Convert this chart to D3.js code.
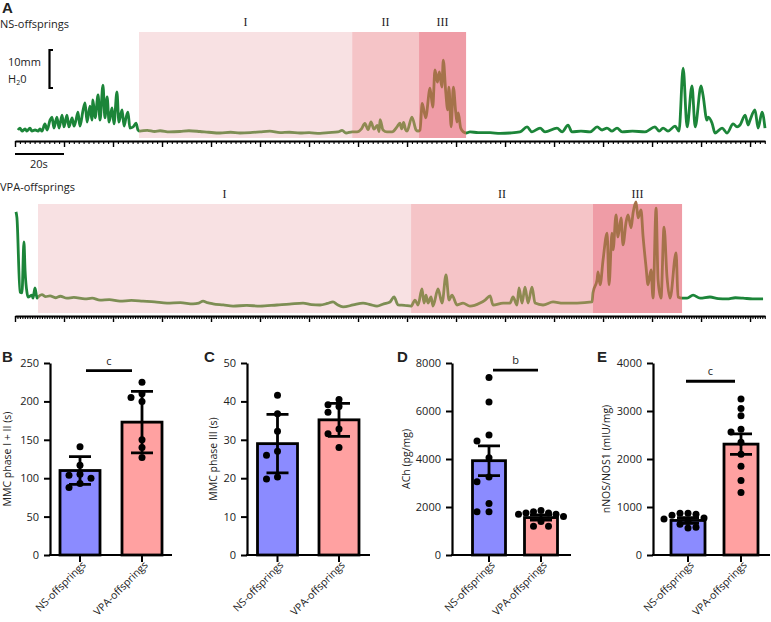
<!DOCTYPE html>
<html><head><meta charset="utf-8">
<script src="https://cdn.jsdelivr.net/npm/d3@7"></script>
<style>
body{margin:0;background:#fff}
svg{display:block}
text{font-family:"Open Sans",sans-serif;fill:#222}
</style>
</head><body>
<svg id="c" width="771" height="622"></svg>
<script>
// ---------- DATA ----------
// Panel A traces: [time (s), pressure (mmH2O above axis)]
const nsTrace = [
[1.2,2.9],[2.0,3.4],[2.9,2.6],[4.1,3.2],[4.9,2.6],[6.1,3.4],[6.9,2.6],[8.2,2.9],[9.4,2.6],[10.2,3.2],[11.0,2.6],
[12.2,4.5],[13.1,2.9],[14.3,5.5],[15.1,6.3],[15.9,3.4],[17.1,6.3],[18.0,3.4],[19.2,6.8],[20.0,3.7],[21.2,6.8],[22.0,3.7],
[23.3,6.1],[24.1,3.9],[24.9,5.5],[25.7,7.6],[26.5,3.9],[27.8,8.2],[28.6,10.0],[29.4,5.0],[30.6,9.2],[31.4,5.5],[31.8,10.8],
[32.7,6.1],[33.9,12.1],[34.7,5.5],[35.9,14.7],[36.7,6.1],[37.6,11.6],[38.4,5.0],[39.6,8.7],[40.4,4.5],[41.6,12.9],[42.4,5.0],
[43.7,8.2],[44.5,3.9],[45.3,6.1],[46.1,7.6],[46.9,3.4],[48.2,3.7],[49.4,4.7],[50.2,2.9],
[51.0,2.6],[54.0,2.8],[57.0,2.5],[59.2,2.7],[63.0,2.4],[67.3,2.5],[71.0,2.7],[75.5,2.5],[79.0,2.3],[83.7,2.1],[88.0,2.3],
[91.8,2.1],[96.0,2.2],[100.0,2.4],[104.0,2.6],[108.2,2.2],[112.0,2.3],[116.3,2.1],[120.0,2.2],[124.5,2.0],[128.0,2.2],
[131.8,2.4],[133.5,2.8],[135.1,2.1],[137.6,2.4],
[139.6,2.4],[141.4,3.2],[142.8,4.6],[144.1,3.0],[145.3,5.0],[146.5,3.1],[147.8,4.1],[148.6,2.5],[149.0,5.6],[150.2,2.9],
[151.8,2.4],[153.9,2.4],[155.9,3.7],[157.1,4.7],[157.8,3.2],[158.6,4.9],[159.4,3.0],[160.0,2.6],[162.0,6.3],[163.7,2.9],[164.5,2.6],
[165.3,2.9],[166.2,9.9],[167.6,6.1],[169.4,13.9],[170.5,8.9],[171.4,18.7],[172.4,15.5],[173.2,18.2],[174.2,14.2],[174.8,21.3],
[175.8,12.9],[176.6,8.2],[177.1,14.2],[178.0,3.7],[178.9,14.2],[179.9,7.4],[180.4,5.0],[180.9,7.4],[181.9,3.4],[183.0,2.4],[184.1,2.1],
[185.7,2.4],[189.0,2.2],[193.9,2.2],[198.0,2.0],[202.0,2.1],[206.1,2.4],[209.0,3.7],[211.0,2.4],[214.3,3.4],[216.3,2.4],
[221.2,3.4],[223.3,2.4],[225.7,4.2],[227.3,2.4],[231.0,2.6],[234.7,2.4],[237.6,3.7],[239.6,2.9],[241.6,3.4],[243.7,2.6],
[245.7,3.4],[247.8,2.4],[252.0,2.6],[257.1,2.4],[261.2,3.7],[262.9,2.6],[264.5,3.4],[266.5,2.6],[269.4,3.9],[271.0,2.6],
[272.7,19.2],[274.3,3.7],[276.3,14.5],[277.6,3.7],[280.0,14.5],[280.8,12.1],[282.4,5.5],[282.9,6.3],[284.5,4.7],[285.7,2.1],
[288.6,3.4],[290.6,2.1],[293.1,4.5],[294.7,3.7],[295.9,4.2],[298.0,6.8],[299.2,4.2],[300.0,5.5],[302.0,8.2],[303.3,3.4],
[304.9,7.6],[306.1,3.4]
];
const vpaTrace = [
[0.8,27.4],[1.6,25.8],[4.1,6.3],[5.7,6.1],[7.3,19.5],[8.2,12.1],[9.8,6.1],[10.6,5.0],[13.9,5.5],[14.7,4.7],[16.3,7.4],
[18.0,4.7],[18.8,5.0],[22.0,5.6],[25.0,5.1],[28.6,5.3],[33.0,4.8],[37.0,5.2],[42.4,4.7],[48.0,4.9],[57.1,4.5],[63.0,4.7],
[69.4,4.2],[77.0,4.3],[85.7,3.9],[95.0,4.1],[104.5,3.9],[114.0,3.7],[124.1,3.4],[135.0,3.5],[145.3,3.2],[150.0,3.4],
[153.5,3.9],[157.0,3.5],[161.6,3.2],[170.0,2.9],[178.0,2.6],[189.0,2.8],[200.0,2.6],[213.9,2.9],[224.0,3.1],[235.1,3.4],
[242.0,3.0],[249.0,2.9],[255.0,3.3],[259.6,3.7],[263.0,3.0],[267.8,2.4],[276.0,2.9],[284.1,3.4],[290.0,3.0],[295.5,2.6],
[301.0,3.2],[306.1,3.7],[309.4,5.0],[312.7,2.9],[318.0,2.8],[323.3,2.6],[326.5,4.2],[329.0,2.9],[332.2,7.1],[333.9,3.4],
[335.5,5.5],[337.1,3.4],[339.6,5.0],[341.2,2.6],[345.3,7.1],[348.6,3.4],[351.8,10.8],[354.3,4.2],[356.7,5.5],[360.8,2.9],
[365.7,3.4],[371.4,2.6],[379.6,3.4],[383.7,4.2],[387.8,5.3],[390.2,2.9],[398.4,3.4],[404.1,3.4],[406.5,5.0],[409.8,2.9],
[411.4,7.4],[413.9,3.4],[416.3,7.6],[418.8,3.4],[422.0,7.6],[424.5,3.4],[431.0,2.9],[439.2,3.7],[447.3,3.4],[458.8,3.4],
[471.0,3.7],[471.8,6.1],[475.1,9.5],[475.9,11.6],[477.6,8.2],[480.0,14.7],[483.3,21.8],[484.9,8.2],[487.3,21.8],[488.2,17.4],
[490.6,26.6],[492.2,20.8],[494.7,25.8],[496.3,18.7],[498.8,24.7],[500.4,26.6],[502.9,23.2],[504.5,27.1],[506.9,30.0],
[508.6,25.8],[511.0,27.9],[512.7,20.8],[515.1,12.9],[516.7,8.2],[519.2,12.1],[520.8,4.7],[523.3,28.4],[524.9,9.5],[527.3,4.7],
[529.8,23.4],[532.2,10.3],[534.7,4.7],[539.6,16.6],[541.2,5.0],[544.5,4.7],[548.6,4.7],[553.5,5.5],[559.2,4.7],[567.3,5.0],
[574.0,4.6],[581.2,4.5],[588.0,4.8],[594.3,4.7],[602.0,4.5],[610.6,4.5]
];
const nsZones  = [[50.6,137.6],[137.6,164.9],[164.9,184.1]];
const vpaZones = [[18.8,323.3],[323.3,471.8],[471.8,544.5]];
const zoneLabels = ["I","II","III"];
const nsDuration = 306.1, vpaDuration = 612.2;

// Panels B–E
const groups = ["NS-offsprings","VPA-offsprings"];
const bMean = [110,173], bErr = [18,40];
const bNS  = [141,117,105,104,100,93,88];
const bVPA = [225,210,205,200,150,140,127];
const cMean = [29,35.2], cErr = [7.6,4.3];
const cNS  = [41.6,36.8,32.2,27,26,20.3,19.8];
const cVPA = [40.5,39.1,38.7,37.2,32.8,31.6,28];
const dMean = [3930,1560], dErr = [620,110];
const dNS  = [7400,6380,5000,4750,4050,3250,3050,2150,1800,1800];
const dVPA = [1750,1700,1750,1800,1850,1700,1600,1400,1200,1200];
const eMean = [720,2310], eErr = [60,215];
const eNS  = [830,870,850,870,750,770,700,560,580,640];
const eVPA = [3250,3050,2900,2620,2560,2350,2100,1850,1550,1300];

// ---------- DRAW ----------
const svg = d3.select("#c");
const GREEN = "#1c8539";
const zoneFill = ["#f8e1e3","#f5c4c7","#ef9ca6"];
const zoneLine = ["#7d8e54","#8f8a52","#a5724a"];
const PX_PER_UNIT = 3.8;

function drawTrace(o){
  const g = svg.append("g");
  const x = d3.scaleLinear().domain([0,o.duration]).range([15,765]);
  const y = d3.scaleLinear().domain([0,10]).range([o.axisY, o.axisY-10*PX_PER_UNIT]);
  g.selectAll("rect.z").data(o.zones).join("rect")
    .attr("x",d=>x(d[0])).attr("width",d=>x(d[1])-x(d[0]))
    .attr("y",o.zoneTop).attr("height",o.axisY-3-o.zoneTop)
    .attr("fill",(d,i)=>zoneFill[i]);
  g.selectAll("text.zl").data(o.zones).join("text")
    .attr("x",d=>(x(d[0])+x(d[1]))/2).attr("y",o.zoneTop-6)
    .attr("text-anchor","middle")
    .style("font-family","'Liberation Serif','DejaVu Serif',serif").style("font-size","12px")
    .text((d,i)=>zoneLabels[i]);
  const off = t => (x(t)-15)/750;
  const stops = [[0,GREEN]];
  o.zones.forEach((z,i)=>{
    stops.push([off(z[0]), stops[stops.length-1][1]]);
    stops.push([off(z[0]), zoneLine[i]]);
    stops.push([off(z[1]), zoneLine[i]]);
  });
  stops.push([off(o.zones[o.zones.length-1][1]), GREEN]);
  stops.push([1,GREEN]);
  const grad = svg.append("defs").append("linearGradient").attr("id",o.id)
    .attr("gradientUnits","userSpaceOnUse").attr("x1",15).attr("x2",765).attr("y1",0).attr("y2",0);
  stops.forEach(s=>grad.append("stop").attr("offset",s[0]).attr("stop-color",s[1]));
  g.append("path").datum(o.data)
    .attr("d",d3.line().x(d=>x(d[0])).y(d=>y(d[1])).curve(d3.curveMonotoneX))
    .attr("fill","none").attr("stroke",`url(#${o.id})`).attr("stroke-width",2.8)
    .attr("stroke-linejoin","round");
  const minor = d3.axisBottom(x).tickValues(d3.range(0,o.duration+0.01,o.minor)).tickSize(3).tickSizeOuter(0).tickFormat("");
  const major = d3.axisBottom(x).tickValues(d3.range(0,o.duration+0.01,o.major)).tickSize(6).tickSizeOuter(0).tickFormat("");
  const a1 = g.append("g").attr("transform",`translate(0,${o.axisY})`).call(minor);
  a1.select(".domain").attr("stroke-width",2);
  a1.selectAll(".tick line").attr("stroke-width",1.1);
  const a2 = g.append("g").attr("transform",`translate(0,${o.axisY})`).call(major);
  a2.select(".domain").remove();
  a2.selectAll(".tick line").attr("stroke-width",1.4);
  return {x,y};
}

const traceNS = drawTrace({id:"gNS",data:nsTrace,zones:nsZones,duration:nsDuration,axisY:141,zoneTop:32,minor:2,major:20});
drawTrace({id:"gVPA",data:vpaTrace,zones:vpaZones,duration:vpaDuration,axisY:316,zoneTop:204,minor:2,major:40});

svg.append("text").attr("x",2).attr("y",13).style("font-family","'Liberation Sans',Arial,sans-serif").style("font-weight","bold").style("font-size","15px").text("A");
svg.append("text").attr("x",0).attr("y",28).style("font-size","11px").text("NS-offsprings");
svg.append("text").attr("x",0).attr("y",191).style("font-size","11px").text("VPA-offsprings");
svg.append("path").attr("d",`M53,${88-10*PX_PER_UNIT}H49.5V88H53`).attr("fill","none").attr("stroke","#000").attr("stroke-width",2.2);
svg.append("text").attr("x",8).attr("y",66).style("font-size","11px").text("10mm");
const h2o = svg.append("text").attr("x",8).attr("y",83).style("font-size","11px");
h2o.append("tspan").text("H");
h2o.append("tspan").attr("dy",2).style("font-size","7px").text("2");
h2o.append("tspan").attr("dy",-2).text("0");
svg.append("line").attr("x1",traceNS.x(0)).attr("x2",traceNS.x(20)).attr("y1",154).attr("y2",154).attr("stroke","#000").attr("stroke-width",2);
svg.append("text").attr("x",30).attr("y",168).style("font-size","11px").text("20s");

function drawBar(o){
  const g = svg.append("g");
  const y = d3.scaleLinear().domain([0,o.max]).range([555,363]);
  const x = d3.scalePoint().domain(groups).range(o.centers);
  const colors = ["#8b8bff","#ffa1a1"];
  g.selectAll("rect").data(o.mean).join("rect")
    .attr("x",(d,i)=>x(groups[i])-o.bw/2).attr("width",o.bw)
    .attr("y",d=>y(d)).attr("height",d=>555-y(d))
    .attr("fill",(d,i)=>colors[i]).attr("stroke","#000").attr("stroke-width",2.8);
  o.mean.forEach((m,i)=>{
    const cx = x(groups[i]);
    g.append("path").attr("d",`M${cx},${y(m-o.err[i])}V${y(m+o.err[i])}M${cx-11},${y(m+o.err[i])}H${cx+11}M${cx-11},${y(m-o.err[i])}H${cx+11}`)
      .attr("fill","none").attr("stroke","#000").attr("stroke-width",2.8);
  });
  [o.ns,o.vpa].forEach((vals,i)=>{
    const cx = x(groups[i]);
    const w = o.w[i];
    const placed = [];
    vals.slice().sort((a,b)=>b-a).forEach(v=>{
      const py = y(v);
      for (const s of [0,-1,1,-2,2,-3,3]){
        const px = cx + s*w;
        if (!placed.some(p=>Math.hypot(p[0]-px,p[1]-py)<6.6)){ placed.push([px,py]); break; }
      }
    });
    g.selectAll(null).data(placed).join("circle").attr("cx",d=>d[0]).attr("cy",d=>d[1]).attr("r",3.5).attr("fill","#000");
  });
  const ya = g.append("g").attr("transform",`translate(${o.ax},0)`)
    .call(d3.axisLeft(y).tickValues(d3.range(0,o.max+1,o.step)).tickFormat(d3.format("d")).tickSize(6).tickSizeOuter(0).tickPadding(5));
  ya.select(".domain").attr("stroke-width",2.2);
  ya.selectAll(".tick line").attr("stroke-width",2);
  ya.selectAll(".tick text").style("font-size","11px").style("font-family","'Open Sans',sans-serif").attr("fill","#222");
  g.append("line").attr("x1",o.ax-1).attr("x2",o.end).attr("y1",555).attr("y2",555).attr("stroke","#000").attr("stroke-width",2.2);
  groups.forEach(gr=>{
    g.append("line").attr("x1",x(gr)).attr("x2",x(gr)).attr("y1",555).attr("y2",562).attr("stroke","#000").attr("stroke-width",2);
    g.append("text").attr("transform",`translate(${x(gr)+4},563) rotate(-45)`).attr("text-anchor","end")
      .attr("dy","0.35em").style("font-size","10.5px").text(gr);
  });
  g.append("text").attr("transform",`translate(${o.ax-o.labOff},459) rotate(-90)`).attr("text-anchor","middle")
    .attr("dy","0.35em").style("font-size","10.5px").text(o.label);
  g.append("text").attr("x",o.letterX).attr("y",362).style("font-family","'Liberation Sans',Arial,sans-serif")
    .style("font-weight","bold").style("font-size","15px").attr("fill","#111").text(o.letter);
  if (o.sig){
    g.append("line").attr("x1",o.sig[0]).attr("x2",o.sig[1]).attr("y1",y(o.sig[2])).attr("y2",y(o.sig[2]))
      .attr("stroke","#000").attr("stroke-width",2.8);
    g.append("text").attr("x",(o.sig[0]+o.sig[1])/2).attr("y",y(o.sig[2])-6).attr("text-anchor","middle")
      .style("font-size","11px").text(o.sig[3]);
  }
}

drawBar({ax:50,end:172,centers:[80,142],bw:40,w:[11,11],max:250,step:50,mean:bMean,err:bErr,ns:bNS,vpa:bVPA,
  label:"MMC phase I + II (s)",labOff:43,letter:"B",letterX:2,sig:[86,132,240,"c"]});
drawBar({ax:247,end:370,centers:[277.5,339],bw:40,w:[11,11],max:50,step:10,mean:cMean,err:cErr,ns:cNS,vpa:cVPA,
  label:"MMC phase III (s)",labOff:34,letter:"C",letterX:204,sig:null});
drawBar({ax:452,end:571,centers:[489,541],bw:33,w:[12,7.5],max:8000,step:2000,mean:dMean,err:dErr,ns:dNS,vpa:dVPA,
  label:"ACh (pg/mg)",labOff:46,letter:"D",letterX:397,sig:[493,538,7700,"b"]});
drawBar({ax:653,end:770,centers:[688,741],bw:34,w:[8,10],max:4000,step:1000,mean:eMean,err:eErr,ns:eNS,vpa:eVPA,
  label:"nNOS/NOS1 (mIU/mg)",labOff:47,letter:"E",letterX:597,sig:[686,735,3620,"c"]});
</script>
</body></html>
